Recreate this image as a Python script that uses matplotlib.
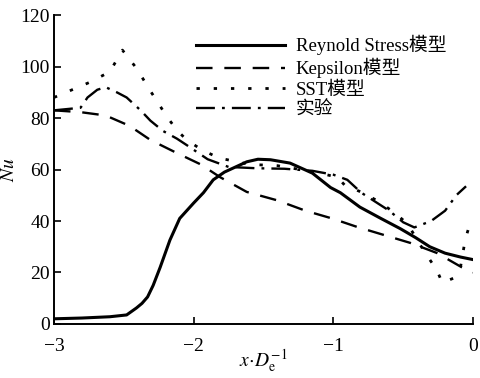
import matplotlib
matplotlib.use("Agg")
import matplotlib.pyplot as plt
import numpy as np

plt.rcParams['font.family'] = ['Liberation Serif', 'Noto Sans CJK SC']
plt.rcParams['mathtext.fontset'] = 'stix'
plt.rcParams['axes.unicode_minus'] = True

# Reynold Stress model
x_rs = [-3.0, -2.8, -2.6, -2.48, -2.41, -2.37, -2.33, -2.29, -2.24, -2.17, -2.10,
        -2.0, -1.93, -1.86, -1.78, -1.70, -1.62, -1.54, -1.45, -1.31, -1.15, -1.02,
        -0.95, -0.81, -0.66, -0.52, -0.41, -0.31, -0.2, -0.09, 0.0]
nu_rs = [2.0, 2.3, 2.8, 3.5, 6.2, 8.0, 10.5, 15.0, 22.0, 32.6, 41.0,
         47.0, 51.0, 56.0, 59.0, 61.0, 63.0, 64.0, 63.8, 62.5, 58.6, 53.0,
         51.0, 45.4, 41.0, 37.0, 33.5, 30.0, 27.5, 26.0, 25.0]

# Kepsilon model
x_ke = [-3.0, -2.81, -2.63, -2.46, -2.31, -2.12, -1.95, -1.81, -1.62, -1.40, -1.20,
        -1.01, -0.83, -0.64, -0.45, -0.26, -0.08, 0.0]
nu_ke = [83.0, 82.3, 81.0, 77.0, 71.5, 66.4, 62.0, 57.0, 51.3, 48.0, 44.0,
         41.0, 37.7, 34.6, 31.5, 27.6, 22.0, 20.0]

# SST model
x_sst = [-3.0, -2.74, -2.6, -2.51, -2.41, -2.30, -2.19, -2.12, -2.05, -1.94, -1.82,
         -1.60, -1.40, -1.13, -0.97, -0.92, -0.79, -0.67, -0.57, -0.47, -0.37, -0.31,
         -0.26, -0.22, -0.13, -0.09, -0.06, -0.04, -0.01]
nu_sst = [88.0, 94.0, 98.0, 106.4, 99.4, 89.7, 80.4, 75.3, 71.5, 67.6, 64.5,
          62.0, 61.5, 59.0, 57.0, 54.0, 51.0, 47.4, 43.5, 39.0, 30.0, 25.0,
          21.0, 16.0, 18.0, 22.0, 31.5, 35.7, 41.0]

# experiment
x_exp = [-3.0, -2.81, -2.76, -2.69, -2.63, -2.55, -2.48, -2.38, -2.31, -2.22, -2.12,
         -2.05, -1.90, -1.75, -1.55, -1.35, -1.15, -1.0, -0.9, -0.8, -0.7, -0.6,
         -0.5, -0.42, -0.3, -0.2, -0.12, -0.05]
nu_exp = [83.0, 84.0, 88.0, 91.0, 92.0, 90.0, 88.0, 83.0, 79.0, 75.0, 72.0,
          69.5, 64.0, 61.0, 60.5, 60.3, 59.5, 58.0, 56.0, 51.0, 47.5, 44.0,
          39.5, 37.5, 40.0, 44.0, 50.0, 53.5]

labels = ['Reynold Stress模型', 'Kepsilon模型', 'SST模型', '实验']

fig = plt.figure(figsize=(4.8, 3.78), dpi=100)
ax = fig.add_axes([0.1125, 0.143, 0.873, 0.817])

ax.plot(x_rs, nu_rs, color='black', lw=2.2, ls='-', label=labels[0])
ax.plot(x_ke, nu_ke, color='black', lw=1.7, ls=(0, (7, 5)), label=labels[1])
ax.plot(x_sst, nu_sst, color='black', lw=2.0, ls=(0, (1.2, 5)), label=labels[2])
ax.plot(x_exp, nu_exp, color='black', lw=1.7, ls=(0, (8, 3, 1.2, 3)), label=labels[3])

ax.set_xlim(-3, 0)
ax.set_ylim(0, 120)
ax.set_xticks([-3, -2, -1, 0])
ax.set_yticks([0, 20, 40, 60, 80, 100, 120])
ax.spines['top'].set_visible(False)
ax.spines['right'].set_visible(False)
for s in ['left', 'bottom']:
    ax.spines[s].set_linewidth(1.4)
ax.tick_params(direction='in', length=5, width=1.2, labelsize=14)
ax.tick_params(axis='x', pad=10)
ax.tick_params(axis='y', pad=3)

ax.set_xlabel(r'$x\!\cdot\! D_{\mathrm{e}}^{-1}$', fontsize=14, labelpad=-5)
ax.set_ylabel(r'$Nu$', fontsize=14, labelpad=2)

ax.legend(loc='upper left', bbox_to_anchor=(0.34, 0.935), frameon=False,
          fontsize=13.5, handlelength=4.7, handletextpad=0.6, labelspacing=0.15,
          borderaxespad=0, borderpad=0)

fig.savefig('out.png', dpi=100)
